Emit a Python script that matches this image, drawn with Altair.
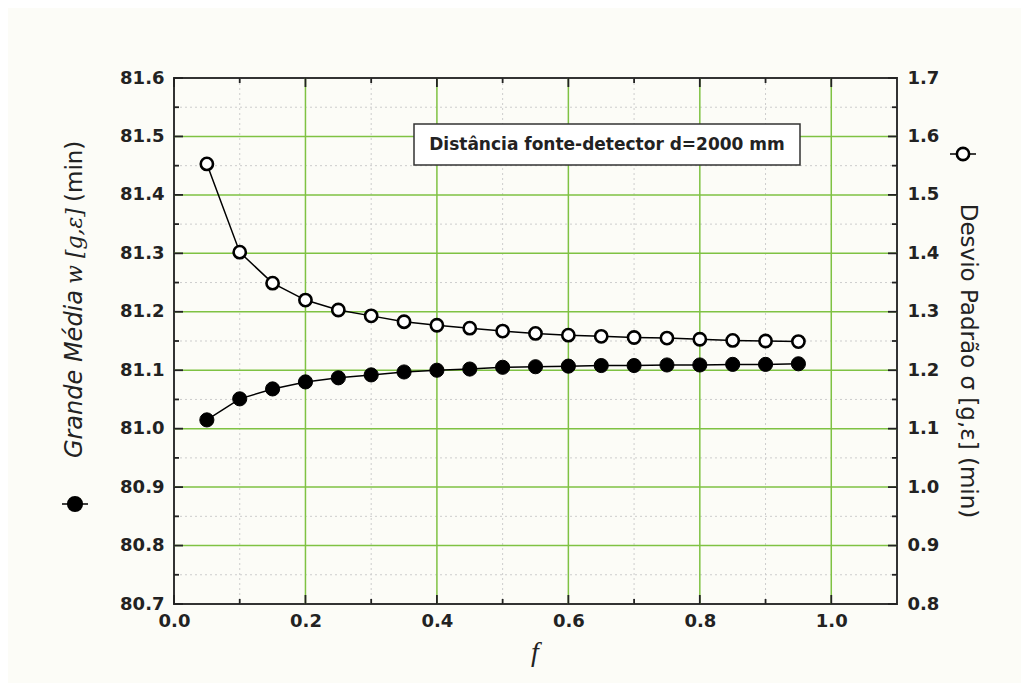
import altair as alt
import pandas as pd

# ---------------- data ----------------
f_vals = [0.05, 0.10, 0.15, 0.20, 0.25, 0.30, 0.35, 0.40, 0.45, 0.50,
          0.55, 0.60, 0.65, 0.70, 0.75, 0.80, 0.85, 0.90, 0.95]
mean_vals = [81.015, 81.051, 81.068, 81.080, 81.087, 81.092, 81.097, 81.100, 81.102, 81.105,
             81.106, 81.107, 81.108, 81.108, 81.109, 81.109, 81.110, 81.110, 81.111]
sigma_vals = [1.553, 1.402, 1.349, 1.320, 1.303, 1.293, 1.283, 1.277, 1.272, 1.267,
              1.263, 1.260, 1.258, 1.256, 1.255, 1.253, 1.251, 1.250, 1.249]

x_major = [0.0, 0.2, 0.4, 0.6, 0.8, 1.0]
x_minor = [0.1, 0.3, 0.5, 0.7, 0.9]
yl_major = [80.7, 80.8, 80.9, 81.0, 81.1, 81.2, 81.3, 81.4, 81.5, 81.6]
yl_minor = [80.75, 80.85, 80.95, 81.05, 81.15, 81.25, 81.35, 81.45, 81.55]
yr_major = [0.8, 0.9, 1.0, 1.1, 1.2, 1.3, 1.4, 1.5, 1.6, 1.7]

legend_text = "Distância fonte-detector d=2000 mm"
left_title_a = "Grande Média"
left_title_b = "w [g,ε]"
left_title_c = "(min)"
right_title = "Desvio Padrão σ [g,ε] (min)"
x_title = "f"

df = pd.DataFrame({"f": f_vals, "mean": mean_vals, "sigma": sigma_vals})

W, H = 723, 526
GREEN = "#7fc243"
DARK = "#222222"
BG = "#fcfcf7"
FONT = "DejaVu Sans"

xs = alt.Scale(domain=[0, 1.1], nice=False, zero=False)
yl = alt.Scale(domain=[80.7, 81.6], nice=False, zero=False)
yr = alt.Scale(domain=[0.8, 1.7], nice=False, zero=False)

label_kw = dict(labelFont=FONT, labelFontWeight="bold", labelFontSize=18, labelColor=DARK,
                ticks=False, domain=False, grid=False, title=None, format=".1f",
                labelFlush=False)
x_axis = alt.Axis(values=x_major, labelPadding=8, **label_kw)


def X(field):
    return alt.X(field, scale=xs, axis=x_axis)


def vdf(vals):
    return pd.DataFrame({"v": vals})


one = pd.DataFrame({"a": [0]})

# grids
vminor = alt.Chart(vdf(x_minor)).mark_rule(color="#cdcdcd", strokeDash=[2, 3], strokeWidth=1).encode(
    x=X("v:Q"))
hminor = alt.Chart(vdf(yl_minor)).mark_rule(color="#cdcdcd", strokeDash=[2, 3], strokeWidth=1).encode(
    y=alt.Y("v:Q", scale=yl, axis=None))
vmajor = alt.Chart(vdf(x_major[1:])).mark_rule(color=GREEN, strokeWidth=1.5).encode(
    x=X("v:Q"))
hmajor = alt.Chart(vdf(yl_major[1:-1])).mark_rule(color=GREEN, strokeWidth=1.5).encode(
    y=alt.Y("v:Q", scale=yl, axis=None))


# inward ticks
def xticks(vals, length):
    base = alt.Chart(vdf(vals)).mark_rule(color=DARK, strokeWidth=1.8)
    b = base.encode(x=X("v:Q"), y=alt.value(H), y2=alt.value(H - length))
    t = base.encode(x=X("v:Q"), y=alt.value(0), y2=alt.value(length))
    return [b, t]


def yticks(vals, length):
    base = alt.Chart(vdf(vals)).mark_rule(color=DARK, strokeWidth=1.8)
    l = base.encode(y=alt.Y("v:Q", scale=yl, axis=None), x=alt.value(0), x2=alt.value(length))
    r = base.encode(y=alt.Y("v:Q", scale=yl, axis=None), x=alt.value(W), x2=alt.value(W - length))
    return [l, r]


ticks = xticks(x_major, 9) + xticks(x_minor, 5) + yticks(yl_major, 9) + yticks(yl_minor, 5)

# legend box
box = alt.Chart(one).mark_rect(fill="white", stroke="#333333", strokeWidth=1.5).encode(
    x=alt.value(240), x2=alt.value(626), y=alt.value(46), y2=alt.value(87))
box_text = alt.Chart(one).mark_text(text=legend_text, font=FONT, fontWeight="bold", fontSize=17,
                                    color=DARK, align="center", baseline="middle").encode(
    x=alt.value(433), y=alt.value(67))

mean_line = alt.Chart(df).mark_line(color="black", strokeWidth=1.5).encode(
    x=X("f:Q"),
    y=alt.Y("mean:Q", scale=yl, axis=alt.Axis(orient="left", values=yl_major, labelPadding=10, **label_kw)))
mean_pts = alt.Chart(df).mark_point(shape="circle", filled=True, fill="black", stroke="black",
                                    strokeWidth=1, size=200, opacity=1).encode(
    x=X("f:Q"), y=alt.Y("mean:Q", scale=yl, axis=None))

sig_line = alt.Chart(df).mark_line(color="black", strokeWidth=1.5).encode(
    x=X("f:Q"),
    y=alt.Y("sigma:Q", scale=yr, axis=alt.Axis(orient="right", values=yr_major, labelPadding=10, **label_kw)))
sig_pts = alt.Chart(df).mark_point(shape="circle", filled=True, fill="white", stroke="black",
                                   strokeWidth=2.6, size=150, opacity=1).encode(
    x=X("f:Q"), y=alt.Y("sigma:Q", scale=yr, axis=None))

# axis titles as text
TX = -99
lt_a = alt.Chart(one).mark_text(text=left_title_a, font=FONT, fontStyle="italic", fontSize=24,
                                color=DARK, angle=270, align="right", baseline="middle").encode(
    x=alt.value(TX), y=alt.value(212))
lt_b = alt.Chart(one).mark_text(text=left_title_b, font="DejaVu Serif", fontStyle="italic", fontSize=22,
                                color=DARK, angle=270, align="center", baseline="middle").encode(
    x=alt.value(TX), y=alt.value(168))
lt_c = alt.Chart(one).mark_text(text=left_title_c, font=FONT, fontSize=23,
                                color=DARK, angle=270, align="left", baseline="middle").encode(
    x=alt.value(TX), y=alt.value(124))
rt = alt.Chart(one).mark_text(text=right_title, font=FONT, fontSize=23,
                              color=DARK, angle=90, align="center", baseline="middle").encode(
    x=alt.value(794), y=alt.value(283))
xt = alt.Chart(one).mark_text(text=x_title, font="Liberation Serif", fontStyle="italic", fontSize=28,
                              color=DARK, align="center", baseline="middle").encode(
    x=alt.value(361), y=alt.value(575))

# symbol keys next to titles
lkey_line = alt.Chart(one).mark_rule(color="black", strokeWidth=1.5).encode(
    x=alt.value(-112), x2=alt.value(-86), y=alt.value(426))
lkey_pt = alt.Chart(one).mark_point(shape="circle", filled=True, fill="black", stroke="black",
                                    size=200, opacity=1).encode(x=alt.value(TX), y=alt.value(426))
rkey_line = alt.Chart(one).mark_rule(color="black", strokeWidth=1.5).encode(
    x=alt.value(776), x2=alt.value(802), y=alt.value(76))
rkey_pt = alt.Chart(one).mark_point(shape="circle", filled=True, fill="white", stroke="black",
                                    strokeWidth=2.6, size=150, opacity=1).encode(x=alt.value(789), y=alt.value(76))

layers = [vminor, hminor, vmajor, hmajor] + ticks + [box, box_text, mean_line, mean_pts, sig_line, sig_pts,
                                                      lt_a, lt_b, lt_c, rt, xt, lkey_line, lkey_pt, rkey_line, rkey_pt]

chart = alt.layer(*layers).resolve_scale(y="independent").properties(
    width=W, height=H,
    autosize=alt.AutoSizeParams(type="none"),
    padding={"left": 166, "top": 70, "right": 124, "bottom": 79},
    background=BG,
).configure_view(stroke="#333333", strokeWidth=2, fill=BG)

chart.save("out.html", embed_options={"renderer": "svg", "actions": False})
